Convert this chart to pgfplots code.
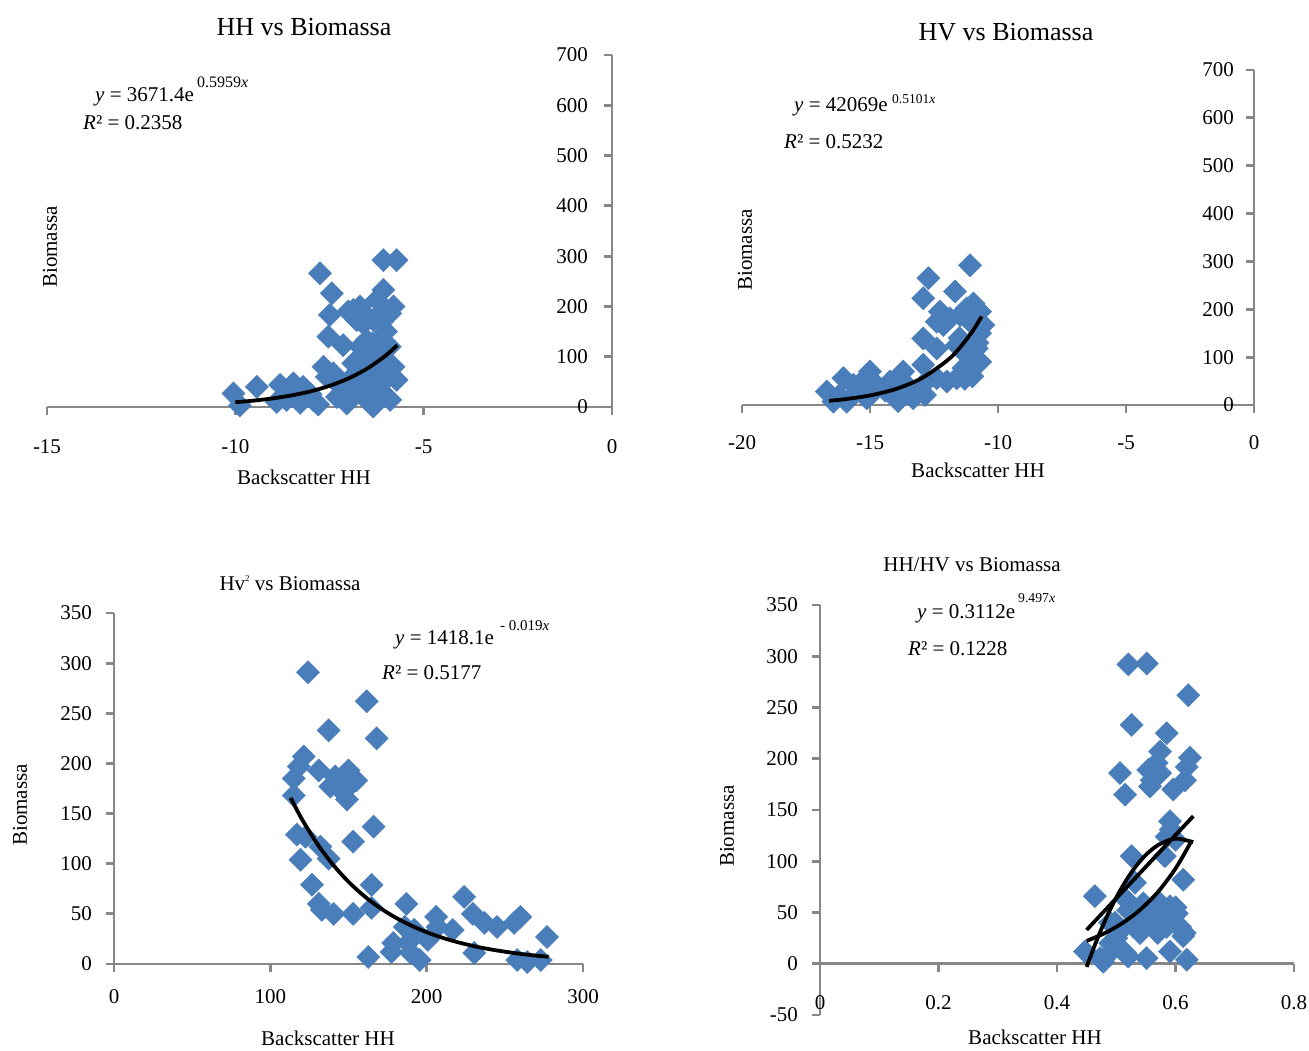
\documentclass[border=0pt]{standalone}
\usepackage{fontspec}
\setmainfont{Liberation Serif}
\usepackage{pgfplots}
\pgfplotsset{compat=1.18}
\definecolor{mk}{HTML}{4A7EBB}
\definecolor{ax}{HTML}{878787}
\newcommand\tickf{\fontsize{21}{25}\selectfont}
\newcommand\labf{\fontsize{21}{25}\selectfont}
\newcommand\eqf{\fontsize{21}{25}\selectfont}

\pgfplotsset{
  excel/.style={
    scale only axis, anchor=south west,
    axis lines=middle,
    axis line style={draw=ax, line width=2.8pt, -},
    tick style={draw=ax, line width=2.8pt},
    major tick length=8pt, tick align=outside,
    enlargelimits=false, clip=false, clip marker paths=true,
    hide obscured x ticks=false, hide obscured y ticks=false,
    /pgf/number format/assume math mode=true,
    ticklabel style={font=\tickf, inner sep=0pt},
    xticklabel style={anchor=center},
    yticklabel style={anchor=east},
  },
  pts/.style={only marks, mark=square*, mark size=8.2pt,
    mark options={rotate=45, fill=mk, draw=mk}},
  trend/.style={no marks, black, line width=3.8pt, smooth},
}

\begin{document}
\begin{tikzpicture}
\fill[white] (0,0) rectangle (1309pt,-1050pt);
\path[use as bounding box] (0,0) rectangle (1309pt,-1050pt);

% ---------- HH vs Biomassa
\begin{axis}[excel, at={(47pt,-407pt)}, width=565pt, height=352pt,
  xmin=-15, xmax=0, ymin=0, ymax=700,
  xtick={-15,-10,-5,0}, xticklabels={-15,-10,-5,0},
  ytick={0,100,...,700}, yticklabels={0,100,200,300,400,500,600,700},
  xticklabel style={yshift=-32pt}, yticklabel style={xshift=-16pt}]
\addplot[pts] coordinates {
(-10.05,27) (-9.88,3) (-9.43,40) (-8.81,44) (-8.46,47) (-8.64,14) (-8.2,40)
(-8.28,8) (-7.93,14) (-7.66,80) (-7.57,60) (-7.75,266) (-7.44,226) (-7.49,183)
(-7.53,140) (-7.14,123) (-7.4,67) (-6.95,27) (-7.04,7) (-6.87,193) (-6.69,200)
(-6.78,173) (-6.6,166) (-6.69,120) (-6.51,133) (-6.78,67) (-6.6,47) (-6.51,14)
(-6.34,1) (-6.25,213) (-6.07,233) (-6.07,186) (-6.34,173) (-5.89,186) (-5.8,200)
(-6.07,292) (-5.72,292) (-6.34,127) (-6.25,107) (-6.07,93) (-5.8,80) (-5.72,54)
(-5.89,14) (-6.16,34) (-6.87,87) (-8.6,30) (-8.0,25) (-7.2,40) (-6.9,60)
(-6.4,60) (-6.2,20) (-7.8,5) (-8.9,10) (-5.9,120) (-6.5,180) (-7.0,190)
(-6.1,170) (-6.7,30) (-6.3,80) (-6.9,45) (-6.45,40) (-6.0,55) (-6.2,130)
(-6.0,150) (-7.3,20) (-6.6,100)
};
\addplot[trend] coordinates {
(-10,9.5) (-9.5,12.8) (-9,17.2) (-8.5,23.2) (-8,31.2) (-7.5,42.1) (-7,56.7)
(-6.5,76.4) (-6,102.8) (-5.7,122.9)
};
\end{axis}

% ---------- HV vs Biomassa
\begin{axis}[excel, at={(742pt,-405pt)}, width=512pt, height=335pt,
  xmin=-20, xmax=0, ymin=0, ymax=700,
  xtick={-20,-15,-10,-5,0}, xticklabels={-20,-15,-10,-5,0},
  ytick={0,100,...,700}, yticklabels={0,100,200,300,400,500,600,700},
  xticklabel style={yshift=-30pt}, yticklabel style={xshift=-12pt}]
\addplot[pts] coordinates {
(-11.09,292) (-12.72,265) (-12.92,223) (-11.68,237) (-12.27,195) (-12.39,174)
(-11.88,181) (-11.22,202) (-10.96,212) (-10.7,195) (-10.57,167) (-11.48,188)
(-12.14,167) (-12.92,139) (-12.39,118) (-11.61,125) (-11.22,104) (-10.83,118)
(-10.7,90) (-11.35,77) (-12.92,84) (-11.61,56) (-12.0,49) (-12.39,56) (-12.79,50)
(-12.85,21) (-13.7,70) (-13.57,42) (-14.22,49) (-13.96,21) (-13.31,14) (-15.0,70)
(-14.74,42) (-15.13,14) (-16.04,56) (-15.65,42) (-16.69,28) (-16.43,7) (-15.91,7)
(-15.4,35) (-14.4,30) (-13.9,8) (-11.0,60) (-11.3,55) (-10.8,130) (-11.1,175)
(-12.0,180) (-11.5,140) (-15.3,50) (-14.9,25) (-13.2,30) (-16.2,20) (-10.7,150)
};
\addplot[trend] coordinates {
(-16.6,8.8) (-16,12.0) (-15,20.0) (-14,33.3) (-13,55.4) (-12,92.3) (-11.5,119.1)
(-11,153.8) (-10.64,184.9)
};
\end{axis}

% ---------- Hv^2 vs Biomassa
\begin{axis}[excel, at={(114pt,-964pt)}, width=469pt, height=351pt,
  xmin=0, xmax=300, ymin=0, ymax=350,
  xtick={0,100,200,300}, xticklabels={0,100,200,300},
  ytick={0,50,...,350}, yticklabels={0,50,100,150,200,250,300,350},
  xticklabel style={yshift=-25pt}, yticklabel style={xshift=-14pt}]
\addplot[pts] coordinates {
(124.1,291) (161.7,262) (137.3,233) (168,225) (121.4,207) (118.2,197) (115,185)
(115,168) (131,193) (138.4,177) (141.5,187) (150,193) (152,180) (149,164)
(146,172) (155,183) (117,129) (122.5,127) (132,117) (137.3,105) (119.3,104)
(153,122) (166,137) (126.7,79) (131,60) (133,54) (140.5,50) (153,50) (164.8,79)
(164.8,56) (162.7,7) (187,60) (186,37) (178.6,21) (177.5,12) (188,21) (190,11)
(195.6,4) (192,34) (200.8,24) (206,47) (207,37) (216.7,34) (224,67) (229.5,50)
(236.9,41) (230.5,11) (245,37) (256,41) (260,47) (258,4) (264.4,2) (273,4)
(277,27)
};
\addplot[trend] coordinates {
(113,165.7) (120,145.0) (130,119.9) (140,99.2) (150,82.0) (160,67.8) (170,56.1)
(180,46.4) (190,38.4) (200,31.7) (210,26.2) (220,21.7) (230,17.9) (240,14.8)
(250,12.3) (260,10.1) (270,8.4) (278,7.2)
};
\end{axis}

% ---------- HH/HV vs Biomassa
\begin{axis}[excel, at={(820pt,-1015pt)}, width=474pt, height=410pt,
  xmin=0, xmax=0.8, ymin=-50, ymax=350,
  xtick={0,0.2,0.4,0.6,0.8}, xticklabels={0,0.2,0.4,0.6,0.8},
  ytick={-50,0,...,350}, yticklabels={-50,0,50,100,150,200,250,300,350},
  xticklabel style={yshift=-31pt}, yticklabel style={xshift=-14pt}]
\addplot[pts] coordinates {
(0.5204,292) (0.5514,293) (0.6216,262) (0.526,233) (0.5852,225) (0.5739,207)
(0.6245,201) (0.619,192) (0.5683,196) (0.554,189) (0.5598,179) (0.574,186)
(0.5963,170) (0.557,173) (0.616,179) (0.5063,186) (0.5148,165) (0.5907,139)
(0.5918,131) (0.585,124) (0.6,121) (0.526,105) (0.582,105) (0.613,82) (0.464,66)
(0.5316,79) (0.5176,62) (0.5457,59) (0.574,59) (0.5907,56) (0.602,49) (0.533,46)
(0.5626,46) (0.4894,40) (0.4978,40) (0.5035,30) (0.5457,43) (0.5852,36) (0.6076,36)
(0.6155,30) (0.613,27) (0.4473,12) (0.4726,5.5) (0.495,14) (0.5148,11) (0.52,7)
(0.5514,5.5) (0.5907,12) (0.619,4) (0.478,2) (0.49,20) (0.50,25) (0.53,36)
(0.55,50) (0.56,40) (0.57,30) (0.58,45) (0.60,55) (0.52,52) (0.54,30)
};
\addplot[trend] coordinates {(0.45,33) (0.63,144)};
\addplot[trend] coordinates {
(0.45,22.3) (0.48,29.7) (0.51,39.5) (0.54,52.5) (0.57,69.8) (0.60,92.9) (0.625,117.7)
};
\addplot[trend] coordinates {
(0.45,-3) (0.47,27.2) (0.49,53.2) (0.51,75) (0.53,92.7) (0.55,106.3) (0.57,115.6)
(0.59,120.8) (0.605,122) (0.63,118.7)
};
\end{axis}

% ---------- titles, axis names and fit equations
\node[font=\fontsize{26}{30}\selectfont] at (304pt,-27pt) {HH vs Biomassa};
\node[font=\fontsize{26}{30}\selectfont] at (1006pt,-32pt) {HV vs Biomassa};
\node[font=\labf] at (290pt,-583pt) {Hv\raisebox{9pt}{\fontsize{9}{10}\selectfont 2} vs Biomassa};
\node[font=\labf] at (972pt,-565pt) {HH/HV vs Biomassa};

\node[font=\labf, rotate=90] at (50pt,-247pt) {Biomassa};
\node[font=\labf, rotate=90] at (745pt,-250pt) {Biomassa};
\node[font=\labf, rotate=90] at (20pt,-805pt) {Biomassa};
\node[font=\labf, rotate=90] at (727pt,-826pt) {Biomassa};

\node[font=\labf] at (304pt,-477pt) {Backscatter HH};
\node[font=\labf] at (978pt,-470pt) {Backscatter HH};
\node[font=\labf] at (328pt,-1038pt) {Backscatter HH};
\node[font=\labf] at (1035pt,-1037pt) {Backscatter HH};

\begin{scope}[every node/.style={anchor=west, inner sep=0pt}]
\node[font=\eqf] at (95pt,-97pt) {\textit{y} = 3671.4e};
\node[font=\fontsize{16}{18}\selectfont] at (197pt,-82pt) {0.5959\textit{x}};
\node[font=\eqf] at (83pt,-123pt) {\textit{R}² = 0.2358};

\node[font=\eqf] at (794pt,-107pt) {\textit{y} = 42069e};
\node[font=\fontsize{13.5}{16}\selectfont] at (892pt,-99pt) {0.5101\textit{x}};
\node[font=\eqf] at (784pt,-142pt) {\textit{R}² = 0.5232};

\node[font=\eqf] at (395pt,-640pt) {\textit{y} = 1418.1e};
\node[font=\fontsize{15}{17}\selectfont] at (500pt,-626pt) {- 0.019\textit{x}};
\node[font=\eqf] at (382pt,-673pt) {\textit{R}² = 0.5177};

\node[font=\eqf] at (917pt,-614pt) {\textit{y} = 0.3112e};
\node[font=\fontsize{13.7}{16}\selectfont] at (1018pt,-598pt) {9.497\textit{x}};
\node[font=\eqf] at (908pt,-649pt) {\textit{R}² = 0.1228};
\end{scope}
\end{tikzpicture}
\end{document}
